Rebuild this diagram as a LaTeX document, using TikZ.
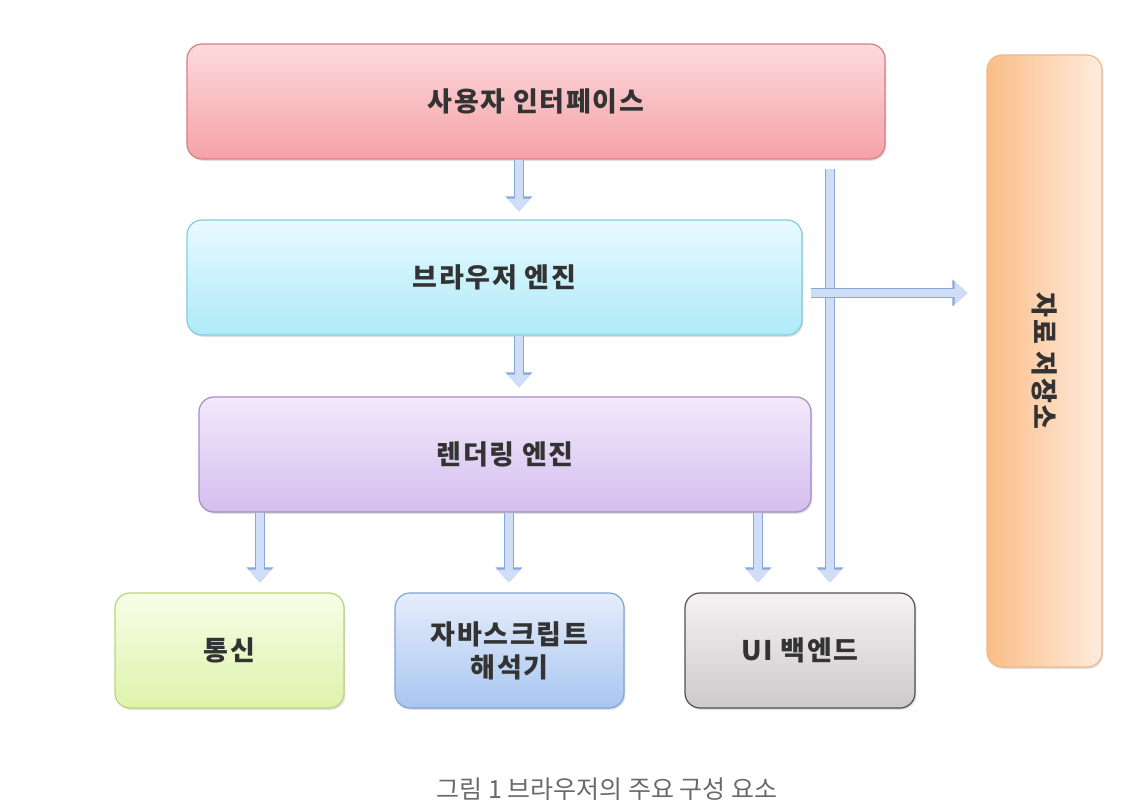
\documentclass[tikz,border=0pt]{standalone}
\usepackage{fontspec}
\newfontfamily\kr{Noto Sans CJK KR}[LetterSpace=6]
\newfontfamily\krcap{Noto Sans CJK KR}
\usetikzlibrary{arrows.meta,shadows}
\definecolor{txt}{HTML}{333333}
\definecolor{capgray}{HTML}{6A6A6A}
\definecolor{arrowfill}{HTML}{CFDDF7}
\definecolor{arrowedge}{HTML}{86A8DD}
\begin{document}
\begin{tikzpicture}[x=0.5pt,y=-0.5pt,
	box/.style={rounded corners=7.5pt,draw,line width=0.6pt,minimum height=57.5pt,
		text=txt,align=center,font=\kr\bfseries\fontsize{13.5pt}{16.5pt}\selectfont,
		drop shadow={shadow xshift=0.7pt,shadow yshift=-0.9pt,opacity=0.25}},
	blockarrow/.style={draw=arrowfill,line width=3.9pt,-{Triangle[width=11.2pt,length=6.4pt]},
		preaction={draw=arrowedge,line width=5.2pt,-{Triangle[width=13pt,length=7.5pt]}}}]
	\useasboundingbox (0,0) rectangle (1146,802);
	\node[box,minimum width=349pt,draw={rgb,255:red,217;green,124;blue,129},top color={rgb,255:red,252;green,218;blue,221},bottom color={rgb,255:red,245;green,162;blue,167}] (ui) at (536,101.5){사용자 인터페이스};
	\node[box,minimum width=307.5pt,draw={rgb,255:red,128;green,205;blue,224},top color={rgb,255:red,232;green,250;blue,254},bottom color={rgb,255:red,174;green,234;blue,248}] (engine) at (494.5,277.5){브라우저 엔진};
	\node[box,minimum width=306pt,draw={rgb,255:red,165;green,140;blue,198},top color={rgb,255:red,242;green,233;blue,251},bottom color={rgb,255:red,212;green,190;blue,238}] (render) at (505,454.5){렌더링 엔진};
	\node[box,minimum width=114.5pt,draw={rgb,255:red,183;green,213;blue,124},top color={rgb,255:red,247;green,253;blue,232},bottom color={rgb,255:red,222;green,243;blue,170}] (net) at (229.5,650.5){통신};
	\node[box,minimum width=114.5pt,draw={rgb,255:red,128;green,163;blue,214},top color={rgb,255:red,230;green,237;blue,251},bottom color={rgb,255:red,168;green,198;blue,240}] (js) at (509.5,650.5){자바스크립트\\해석기};
	\node[box,minimum width=115pt,draw={rgb,255:red,80;green,80;blue,80},top color={rgb,255:red,244;green,242;blue,243},bottom color={rgb,255:red,204;green,202;blue,203}] (uiback) at (800,650.5){UI 백엔드};
	\node[box,minimum width=57.5pt,minimum height=306pt,draw={rgb,255:red,240;green,184;blue,140},left color={rgb,255:red,251;green,189;blue,135},right color={rgb,255:red,254;green,236;blue,222}] (store) at (1044.5,361){};
	\node[rotate=-90,text=txt,font=\kr\bfseries\fontsize{13.5pt}{16.5pt}\selectfont] (storelabel) at (store){자료 저장소};
	\draw[blockarrow,shorten >=4pt] (ui.south -| 519,0)--(engine.north -| 519,0);
	\draw[blockarrow,shorten >=4.5pt] (engine.south -| 519,0)--(render.north -| 519,0);
	\draw[blockarrow,shorten >=5pt] (render.south -| 260,0)--(net.north -| 260,0);
	\draw[blockarrow,shorten >=5pt] (render.south -| 509,0)--(js.north -| 509,0);
	\draw[blockarrow,shorten >=5pt] (render.south -| 758,0)--(uiback.north -| 758,0);
	\draw[blockarrow,shorten <=4.5pt,shorten >=5pt] (ui.south -| 830,0)--(uiback.north -| 830,0);
	\draw[blockarrow,shorten <=4pt,shorten >=9.5pt] (engine.east |- 0,293)--(store.west |- 0,293);
	\node[text=capgray,font=\krcap\fontsize{12.5pt}{15pt}\selectfont] (caption) at (607,789){그림 1 브라우저의 주요 구성 요소};
\end{tikzpicture}
\end{document}
